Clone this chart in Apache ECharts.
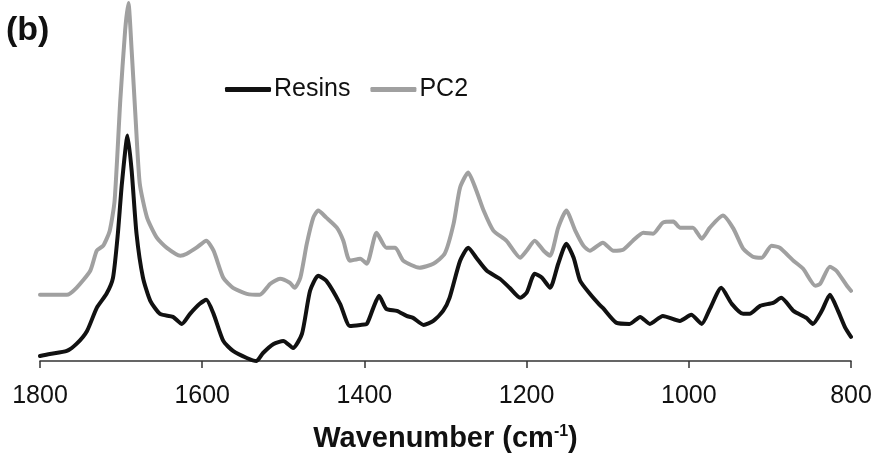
<!DOCTYPE html>
<html>
<head>
<meta charset="utf-8">
<script src="https://cdn.jsdelivr.net/npm/echarts@6/dist/echarts.min.js"></script>
<style>
  html, body { margin: 0; padding: 0; background: #fff; }
  #chart { width: 881px; height: 456px; }
</style>
</head>
<body>
<div id="chart"></div>
<script>
// 横轴：波数 (cm-1)，纵轴强度为任意单位（图中不显示）
const xTicks = [1800, 1600, 1400, 1200, 1000, 800];

// Resins（黑线）
const resinsWn = [1800, 1788, 1767, 1755, 1742, 1730, 1718, 1710, 1704, 1699, 1692, 1687, 1681, 1673,
  1664, 1652, 1636, 1625, 1615, 1603, 1595, 1586, 1574, 1562, 1545, 1533, 1525, 1512, 1500, 1488,
  1477, 1467, 1457, 1447, 1430, 1418, 1405, 1397, 1389, 1382, 1373, 1360, 1348, 1340, 1327, 1315,
  1303, 1295, 1282, 1272, 1262, 1249, 1233, 1221, 1208, 1200, 1190, 1181, 1171, 1161, 1151, 1142,
  1134, 1122, 1110, 1106, 1089, 1073, 1060, 1048, 1032, 1011, 997, 984, 974, 960, 947, 933, 925,
  912, 896, 886, 871, 855, 847, 836, 826, 816, 807, 800];
const resinsVal = [5, 7, 10, 17, 30, 53, 67, 83, 127, 177, 225, 190, 127, 83,
  60, 47, 44, 37, 47, 57, 61, 47, 20, 10, 3, 0, 8, 17, 20, 13,
  27, 70, 85, 80, 57, 35, 36, 37, 53, 65, 52, 50, 45, 43, 36, 40,
  50, 63, 100, 113, 103, 90, 82, 73, 63, 68, 87, 83, 73, 97, 117, 103,
  80, 67, 56, 53, 38, 37, 44, 37, 45, 40, 46, 37, 52, 73, 57, 47, 47,
  55, 58, 63, 50, 43, 37, 50, 66, 50, 33, 24];

// PC2（灰线）
const pc2Wn = [1800, 1767, 1755, 1738, 1730, 1722, 1714, 1708, 1701, 1695, 1691, 1687, 1682, 1677,
  1668, 1656, 1644, 1627, 1619, 1607, 1595, 1586, 1574, 1562, 1545, 1529, 1516, 1504, 1492, 1486,
  1479, 1471, 1463, 1457, 1447, 1434, 1426, 1418, 1405, 1397, 1385, 1373, 1362, 1352, 1332, 1315,
  1301, 1290, 1282, 1272, 1262, 1253, 1241, 1225, 1208, 1200, 1190, 1179, 1171, 1161, 1151, 1140,
  1130, 1122, 1106, 1093, 1081, 1069, 1056, 1044, 1032, 1019, 1011, 995, 984, 974, 958, 945, 933,
  921, 910, 898, 888, 871, 859, 844, 838, 826, 818, 805, 800];
const pc2Val = [66, 66, 73, 90, 110, 115, 130, 160, 260, 330, 357, 310, 240, 177,
  143, 123, 113, 105, 107, 113, 120, 110, 83, 73, 67, 66, 77, 82, 78, 73,
  83, 117, 143, 150, 143, 133, 120, 100, 102, 97, 128, 113, 113, 100, 93, 97,
  107, 137, 173, 188, 170, 150, 130, 120, 103, 110, 120, 110, 105, 133, 150, 130,
  115, 110, 118, 110, 111, 120, 128, 127, 138, 139, 133, 133, 122, 133, 145, 132, 112,
  104, 103, 115, 113, 100, 92, 75, 77, 94, 90, 75, 70];

const font = "'Liberation Sans', Arial, sans-serif";
const chart = echarts.init(document.getElementById("chart"));

const option = {
  animation: false,
  title: {
    text: "(b)",
    left: 1,
    top: 9,
    textStyle: { fontFamily: font, fontSize: 34, fontWeight: "bold", color: "#111" },
  },
  legend: {
    left: 220,
    top: 72,
    itemWidth: 46,
    itemHeight: 5,
    itemGap: 20,
    icon: "roundRect",
    textStyle: { fontFamily: font, fontSize: 25, color: "#111", padding: [0, 0, 0, -2] },
    data: ["Resins", "PC2"],
  },
  grid: { left: 40, right: 30, top: 0, bottom: 95, outerBoundsMode: "none" },
  xAxis: {
    type: "value",
    inverse: true,
    min: 800,
    max: 1800,
    interval: 200,
    name: "{b|Wavenumber (cm}{s|-1}{b|)}",
    nameLocation: "middle",
    nameGap: 63,
    nameMoveOverlap: false,
    nameTextStyle: {
      rich: {
        b: { fontFamily: font, fontSize: 29, fontWeight: "bold", color: "#111" },
        s: { fontFamily: font, fontSize: 16, fontWeight: "bold", color: "#111", padding: [0, 0, 14, 0] },
      },
    },
    axisLine: { show: true, lineStyle: { color: "#333", width: 1.5 } },
    axisTick: { show: true, length: 7, lineStyle: { color: "#333", width: 1.5 } },
    axisLabel: {
      margin: 23,
      fontFamily: font,
      fontSize: 25,
      color: "#111",
      formatter: (v) => (xTicks.includes(v) ? String(v) : ""),
    },
    splitLine: { show: false },
  },
  yAxis: {
    type: "value",
    min: 0,
    max: 360,
    show: false,
  },
  series: [
    {
      name: "Resins",
      type: "line",
      data: resinsWn.map((w, i) => [w, resinsVal[i]]),
      showSymbol: false,
      smooth: 0.2,
      clip: false,
      itemStyle: { color: "#111" },
      lineStyle: { color: "#111", width: 4, cap: "round", join: "round" },
      z: 3,
    },
    {
      name: "PC2",
      type: "line",
      data: pc2Wn.map((w, i) => [w, pc2Val[i]]),
      showSymbol: false,
      smooth: 0.2,
      clip: false,
      itemStyle: { color: "#a0a0a0" },
      lineStyle: { color: "#a0a0a0", width: 4, cap: "round", join: "round" },
      z: 2,
    },
  ],
};

chart.setOption(option);
</script>
</body>
</html>
